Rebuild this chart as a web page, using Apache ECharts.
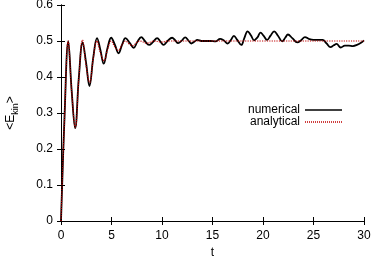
<!DOCTYPE html>
<html>
<head>
<meta charset="utf-8">
<script src="https://cdn.jsdelivr.net/npm/echarts@6/dist/echarts.min.js"></script>
<style>html,body{margin:0;padding:0;background:#fff;}#c{width:374px;height:260px;}</style>
</head>
<body>
<div id="c"></div>
<script>
// numerical series
const numT = [0,0.35,0.72,1.06,1.40,1.77,2.14,2.48,2.82,3.2,3.57,3.9,4.23,4.6,4.97,5.33,5.7,6.05,6.38,6.8,7.2,7.55,7.95,8.3,8.72,9.1,9.52,9.85,10.15,10.55,11.0,11.3,11.6,11.95,12.3,12.6,12.9,13.2,13.5,13.9,14.3,14.8,15.3,15.75,16.1,16.5,16.8,17.12,17.45,17.85,18.15,18.48,18.8,19.12,19.45,19.75,20.05,20.4,20.75,21.1,21.5,21.9,22.2,22.47,22.9,23.4,23.8,24.15,24.6,25.0,25.5,25.9,26.3,26.68,27.0,27.28,27.7,28.1,28.5,28.9,29.3,29.7,30];
const numV = [0,0.29,0.499,0.36,0.258,0.40,0.496,0.44,0.375,0.455,0.508,0.475,0.437,0.48,0.509,0.49,0.466,0.49,0.508,0.495,0.481,0.497,0.511,0.5,0.489,0.497,0.508,0.498,0.489,0.5,0.509,0.502,0.494,0.501,0.51,0.502,0.493,0.498,0.503,0.5,0.5,0.5,0.499,0.506,0.502,0.493,0.502,0.514,0.503,0.489,0.508,0.527,0.516,0.502,0.51,0.523,0.515,0.503,0.515,0.527,0.514,0.499,0.509,0.518,0.508,0.496,0.503,0.511,0.505,0.503,0.503,0.503,0.493,0.483,0.488,0.492,0.482,0.487,0.487,0.486,0.489,0.495,0.502];
// analytical series
const anaT = [0,0.355,0.71,1.065,1.42,1.775,2.13,2.485,2.84,3.195,3.55,3.905,4.26,4.615,4.97,5.325,5.68,6.035,6.39,6.745,7.1,7.455,7.81,8.52,9.23,9.94,10.65,12,15,20,25,30];
const anaV = [0,0.292,0.5,0.356,0.26,0.40,0.503,0.431,0.385,0.452,0.5,0.467,0.445,0.477,0.5,0.484,0.474,0.489,0.5,0.492,0.487,0.495,0.5,0.494,0.5,0.497,0.5,0.5,0.5,0.5,0.5,0.5];
const xTicks = {min:0, max:30, interval:5};
const yTicks = {min:0, max:0.6, interval:0.1};
const seriesNames = ['numerical','analytical'];

const zip = (a,b)=>a.map((t,i)=>[t,b[i]]);
// legend icons: solid bar and dotted bar
let dotPath = 'path://';
for (let i = 0; i < 37; i += 2) dotPath += 'M' + i + ',0h1v1.4h-1z';
const solidPath = 'path://M0,0h37v1.4h-37z';

const chart = echarts.init(document.getElementById('c'), null, {renderer:'canvas'});
const font = 'Liberation Sans, Arial, sans-serif';
const axisCommon = {
  axisLine:{show:true,lineStyle:{color:'#000',width:1}},
  axisTick:{show:true,inside:true,length:4,lineStyle:{color:'#000'}},
  splitLine:{show:false}
};
chart.setOption({
  animation:false,
  backgroundColor:'#fff',
  grid:{left:61,right:10,top:5,bottom:39,outerBoundsMode:'none',containLabel:false},
  legend:{
    orient:'vertical', right:27, top:98, align:'right',
    itemWidth:37, itemHeight:1.4, itemGap:-2, symbolKeepAspect:false,
    textStyle:{fontFamily:font,fontSize:12,color:'#000',lineHeight:14},
    data:[
      {name:seriesNames[0],icon:solidPath,itemStyle:{color:'#000'}},
      {name:seriesNames[1],icon:dotPath,itemStyle:{color:'#c00000'}}
    ]
  },
  xAxis:[
    Object.assign({type:'value',position:'bottom',min:xTicks.min,max:xTicks.max,interval:xTicks.interval,
      name:'t',nameLocation:'middle',nameGap:25,nameTextStyle:{fontFamily:font,fontSize:12,color:'#000'},
      axisLabel:{fontFamily:font,fontSize:12,color:'#000',margin:9}},axisCommon),
    Object.assign({type:'value',position:'top',min:xTicks.min,max:xTicks.max,interval:xTicks.interval,
      axisLabel:{show:false}},axisCommon)
  ],
  yAxis:[
    Object.assign({type:'value',position:'left',min:yTicks.min,max:yTicks.max,interval:yTicks.interval,
      name:'{a|<E}{s|kin}{a|>}',nameLocation:'middle',nameGap:41,nameRotate:90,
      nameTextStyle:{fontFamily:font,color:'#000',rich:{
        a:{fontFamily:font,fontSize:12,color:'#000',lineHeight:18},
        s:{fontFamily:font,fontSize:9,color:'#000',lineHeight:9,verticalAlign:'bottom'}
      }},
      axisLabel:{fontFamily:font,fontSize:12,color:'#000',margin:8,formatter:v=>String(Math.round(v*10)/10)}},axisCommon),
    Object.assign({type:'value',position:'right',min:yTicks.min,max:yTicks.max,interval:yTicks.interval,
      axisLabel:{show:false}},axisCommon)
  ],
  series:[
    {name:seriesNames[0],type:'line',data:zip(numT,numV),smooth:0.4,symbol:'none',
      lineStyle:{color:'#000',width:1.8},itemStyle:{color:'#000'},z:2},
    {name:seriesNames[1],type:'line',data:zip(anaT,anaV),smooth:0.4,symbol:'none',
      lineStyle:{color:'#c00000',width:1.2,type:'dotted'},itemStyle:{color:'#c00000'},z:3}
  ]
});
</script>
</body>
</html>
